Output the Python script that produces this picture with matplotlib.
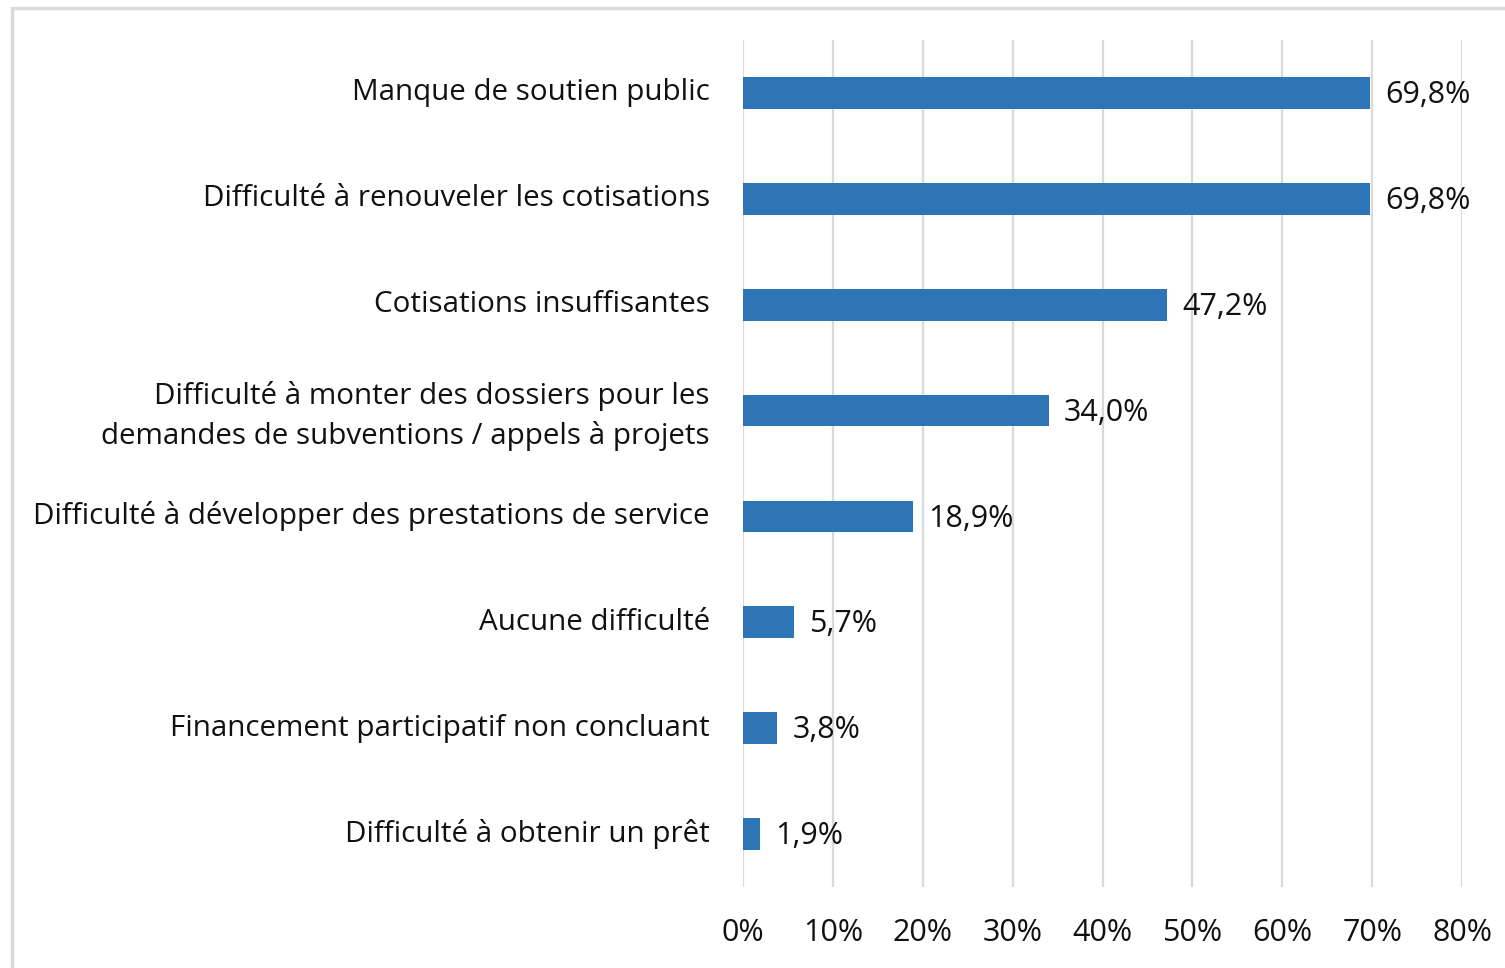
import matplotlib
matplotlib.use("Agg")
import matplotlib.pyplot as plt
from matplotlib.patches import Rectangle
from matplotlib.ticker import FuncFormatter
from matplotlib.transforms import ScaledTranslation

categories = [
    "Manque de soutien public",
    "Difficulté à renouveler les cotisations",
    "Cotisations insuffisantes",
    "Difficulté à monter des dossiers pour les\ndemandes de subventions / appels à projets",
    "Difficulté à développer des prestations de service",
    "Aucune difficulté",
    "Financement participatif non concluant",
    "Difficulté à obtenir un prêt",
]
values = [69.8, 69.8, 47.2, 34.0, 18.9, 5.7, 3.8, 1.9]
xticks = [0, 10, 20, 30, 40, 50, 60, 70, 80]

plt.rcParams['font.family'] = ['Open Sans', 'DejaVu Sans']

W, H = 1505, 968
fig = plt.figure(figsize=(W / 100, H / 100), dpi=100)
fig.patch.set_facecolor('white')

# outer frame
fig.patches.append(Rectangle((12 / W, -0.2), 1.2, 1.2 - 8 / H,
                             transform=fig.transFigure, fill=False,
                             edgecolor='#D9D9D9', linewidth=2.5))

ax = fig.add_axes([743 / W, 1 - 887 / H, (1462 - 743) / W, (887 - 40) / H])
ypos = list(range(len(categories)))
ax.barh(ypos, values, height=0.30, color='#2E75B6', zorder=3)
ax.set_ylim(len(categories) - 0.5, -0.5)
ax.set_xlim(0, 80)
ax.set_xticks(xticks)
ax.xaxis.set_major_formatter(FuncFormatter(lambda v, p: f"{int(v)}%"))
ax.set_yticks(ypos)
ax.set_yticklabels(categories, fontsize=21.3, color='#111111', linespacing=1.45)
ax.tick_params(axis='y', length=0, pad=24)
ax.tick_params(axis='x', length=0, pad=22, labelsize=22, labelcolor='#111111')
ax.grid(axis='x', color='#D9D9D9', linewidth=1.6, zorder=0)
for s in ax.spines.values():
    s.set_visible(False)

shift = ScaledTranslation(0, 2.5 / 72, fig.dpi_scale_trans)
for lab in ax.get_yticklabels():
    lab.set_transform(lab.get_transform() + shift)

for y, v in zip(ypos, values):
    ax.annotate(f"{v:.1f}%".replace('.', ','), xy=(v, y), xytext=(11, -1.5),
                textcoords='offset points', va='center', ha='left',
                fontsize=22, color='#111111', zorder=4)

fig.savefig('out.png', dpi=100)
